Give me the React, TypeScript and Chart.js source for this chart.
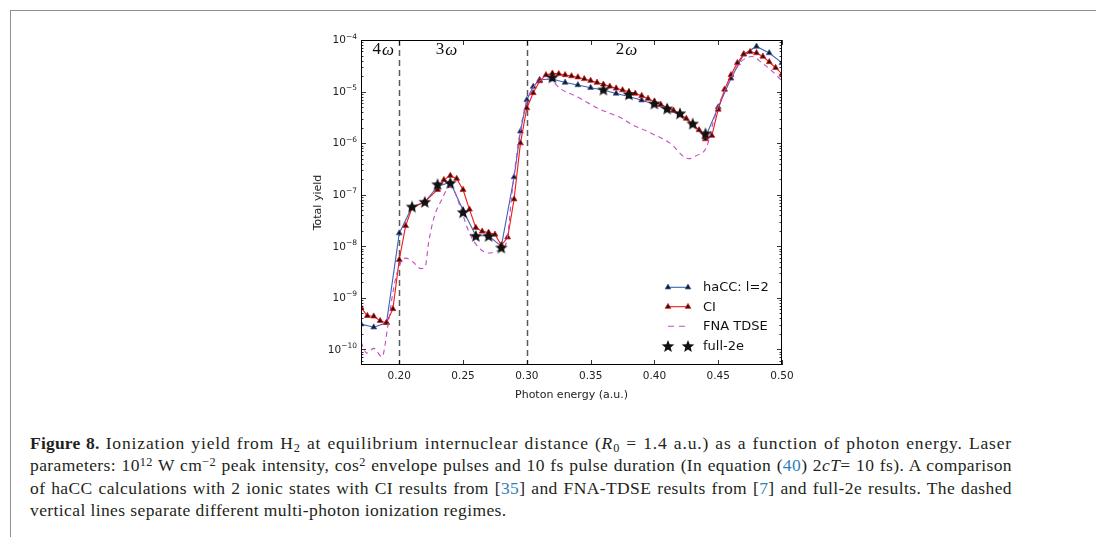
import React, { useEffect, useRef } from "react";
import { Chart, registerables } from "chart.js";

Chart.register(...registerables);

// ---------------- data ----------------
const HACC_ENERGY = [
  0.17, 0.18, 0.19, 0.2, 0.21, 0.22, 0.23, 0.24, 0.25, 0.26, 0.27, 0.28, 0.29, 0.295, 0.3, 0.305,
  0.31, 0.32, 0.33, 0.34, 0.35, 0.36, 0.37, 0.38, 0.39, 0.4, 0.41, 0.42, 0.43, 0.44, 0.45, 0.46,
  0.47, 0.48, 0.49, 0.5,
];
const HACC_YIELD = [
  3.1e-10, 2.7e-10, 3.3e-10, 1.8e-8, 5.8e-8, 7.2e-8, 1.45e-7, 1.75e-7, 5.0e-8, 1.6e-8, 1.6e-8, 1.0e-8,
  2.2e-7, 1.7e-6, 6.9e-6, 1.25e-5, 1.7e-5, 1.75e-5, 1.5e-5, 1.34e-5, 1.19e-5, 1.07e-5, 9.2e-6, 8.0e-6,
  6.8e-6, 5.7e-6, 4.4e-6, 3.6e-6, 2.3e-6, 1.3e-6, 5.0e-6, 1.8e-5, 5.3e-5, 7.5e-5, 5.6e-5, 3.6e-5,
];

const CI_ENERGY = [
  0.17, 0.175, 0.18, 0.185, 0.19, 0.195, 0.2, 0.205, 0.21, 0.22, 0.23, 0.235, 0.24, 0.245, 0.25, 0.255,
  0.26, 0.265, 0.27, 0.275, 0.28, 0.285, 0.29, 0.295, 0.3, 0.305, 0.31, 0.315, 0.32, 0.325, 0.33, 0.335,
  0.34, 0.345, 0.35, 0.355, 0.36, 0.365, 0.37, 0.375, 0.38, 0.385, 0.39, 0.395, 0.4, 0.405, 0.41, 0.415,
  0.42, 0.425, 0.43, 0.435, 0.44, 0.445, 0.45, 0.455, 0.46, 0.465, 0.47, 0.475, 0.48, 0.485, 0.49, 0.495,
  0.5,
];
const CI_YIELD = [
  6.5e-10, 4.5e-10, 4.4e-10, 3.6e-10, 3.3e-10, 6.1e-10, 5.5e-9, 2.5e-8, 5.6e-8, 7.3e-8, 1.25e-7, 1.95e-7,
  2.35e-7, 2.05e-7, 1.25e-7, 5.2e-8, 2.3e-8, 1.95e-8, 1.85e-8, 1.7e-8, 1.05e-8, 1.5e-8, 8.2e-8, 1.0e-6,
  4.8e-6, 9.4e-6, 1.6e-5, 2.1e-5, 2.25e-5, 2.2e-5, 2.1e-5, 2.0e-5, 1.9e-5, 1.76e-5, 1.63e-5, 1.5e-5,
  1.38e-5, 1.26e-5, 1.16e-5, 1.07e-5, 9.9e-6, 9.2e-6, 8.3e-6, 7.3e-6, 6.4e-6, 5.6e-6, 4.9e-6, 4.3e-6,
  3.7e-6, 3.0e-6, 2.4e-6, 1.8e-6, 1.2e-6, 1.4e-6, 4.5e-6, 1.1e-5, 2.1e-5, 3.6e-5, 5.3e-5, 5.9e-5,
  5.6e-5, 4.8e-5, 3.75e-5, 2.9e-5, 2.2e-5,
];

const FNA_ENERGY = [
  0.17, 0.1745, 0.18, 0.1865, 0.191, 0.1955, 0.2, 0.205, 0.211, 0.217, 0.2205, 0.2228, 0.2275, 0.2333,
  0.2393, 0.243, 0.2485, 0.255, 0.2625, 0.27, 0.2785, 0.284, 0.289, 0.294, 0.299, 0.305, 0.31, 0.315,
  0.32, 0.3258, 0.339, 0.356, 0.365, 0.376, 0.381, 0.3965, 0.4123, 0.4267, 0.4333, 0.441, 0.446,
  0.452, 0.46, 0.467, 0.4713, 0.4765, 0.4843, 0.4922, 0.5,
];
const FNA_YIELD = [
  1.4e-10, 8.5e-11, 1.05e-10, 7.2e-11, 2.8e-10, 1.5e-9, 4.2e-9, 5.9e-9, 4.9e-9, 3.7e-9, 4.2e-9, 1.1e-8,
  3.8e-8, 8.0e-8, 1.4e-7, 1.2e-7, 5.1e-8, 1.8e-8, 9.3e-9, 7.4e-9, 8.5e-9, 1.2e-8, 1.5e-7, 1.3e-6,
  5.5e-6, 1.2e-5, 1.6e-5, 1.75e-5, 1.6e-5, 1.16e-5, 8.0e-6, 4.7e-6, 3.8e-6, 2.9e-6, 2.4e-6, 1.6e-6,
  1.0e-6, 5.0e-7, 5.8e-7, 8.5e-7, 2.5e-6, 7.0e-6, 1.8e-5, 3.6e-5, 4.4e-5, 4.8e-5, 3.6e-5, 2.5e-5,
  1.6e-5,
];

const FULL2E_ENERGY = [0.21, 0.22, 0.23, 0.24, 0.25, 0.26, 0.27, 0.28, 0.32, 0.36, 0.38, 0.4, 0.41, 0.42, 0.43, 0.44];
const FULL2E_YIELD = [
  5.9e-8, 7.3e-8, 1.6e-7, 1.7e-7, 4.6e-8, 1.6e-8, 1.6e-8, 9.5e-9, 1.9e-5, 1.1e-5, 8.9e-6, 5.9e-6,
  4.7e-6, 3.8e-6, 2.4e-6, 1.55e-6,
];

const X_TICKS = [0.2, 0.25, 0.3, 0.35, 0.4, 0.45, 0.5];
const Y_DECADES = [-10, -9, -8, -7, -6, -5, -4];
const REGIME_BOUNDARIES = [0.2, 0.3];
const REGIME_ORDERS = ["4", "3", "2"];
const REGIME_LABEL_ENERGY = [0.1874, 0.2371, 0.3782];
const REGIME_LABEL_YIELD = 6.4e-5;
const LEGEND_LABELS = ["haCC: l=2", "CI", "FNA TDSE", "full-2e"];

// ---------------- styles ----------------
const BLUE = "#3d63b8";
const RED = "#f01818";
const MAGENTA = "#c24cc2";
const AXIS_FONT = "'DejaVu Sans', 'Liberation Sans', sans-serif";

const zip = (xs: number[], ys: number[]) => xs.map((x, i) => ({ x, y: ys[i] }));

function makeStar(outer: number, inner: number, color: string): HTMLCanvasElement {
  const size = Math.ceil(outer * 2 + 2);
  const c = document.createElement("canvas");
  c.width = size;
  c.height = size;
  const g = c.getContext("2d")!;
  g.fillStyle = color;
  g.beginPath();
  for (let i = 0; i < 10; i++) {
    const r = i % 2 === 0 ? outer : inner;
    const a = -Math.PI / 2 + (i * Math.PI) / 5;
    const px = size / 2 + r * Math.cos(a);
    const py = size / 2 + 0.6 + r * Math.sin(a);
    if (i === 0) g.moveTo(px, py);
    else g.lineTo(px, py);
  }
  g.closePath();
  g.fill();
  return c;
}

function drawTriangle(ctx: CanvasRenderingContext2D, x: number, y: number, r: number, edge: string) {
  ctx.save();
  ctx.beginPath();
  for (let i = 0; i < 3; i++) {
    const a = -Math.PI / 2 + (i * 2 * Math.PI) / 3;
    const px = x + r * Math.cos(a);
    const py = y + r * Math.sin(a);
    if (i === 0) ctx.moveTo(px, py);
    else ctx.lineTo(px, py);
  }
  ctx.closePath();
  ctx.fillStyle = "#1a1a1a";
  ctx.fill();
  ctx.strokeStyle = edge;
  ctx.lineWidth = 0.8;
  ctx.stroke();
  ctx.restore();
}

export default function App() {
  const ref = useRef<HTMLCanvasElement | null>(null);

  useEffect(() => {
    if (!ref.current) return;
    const star = makeStar(6.6, 2.8, "#111");

    const decor = {
      id: "decor",
      beforeDatasetsDraw(chart: any) {
        const { ctx, chartArea: a, scales } = chart;
        const x = scales.x;
        ctx.save();
        ctx.strokeStyle = "#5a5a5a";
        ctx.lineWidth = 1.5;
        ctx.setLineDash([6, 4]);
        REGIME_BOUNDARIES.forEach((b) => {
          const px = Math.round(x.getPixelForValue(b)) + 0.5;
          ctx.beginPath();
          ctx.moveTo(px, a.top);
          ctx.lineTo(px, a.bottom);
          ctx.stroke();
        });
        ctx.restore();
      },
      afterDraw(chart: any) {
        const { ctx, chartArea: a, scales } = chart;
        const x = scales.x;
        const y = scales.y;
        ctx.save();
        // frame
        ctx.strokeStyle = "#000";
        ctx.lineWidth = 1;
        ctx.setLineDash([]);
        ctx.strokeRect(a.left + 0.5, a.top + 0.5, a.right - a.left - 1, a.bottom - a.top - 1);

        // x ticks (inward, top + bottom)
        ctx.beginPath();
        X_TICKS.forEach((t) => {
          const px = Math.round(x.getPixelForValue(t)) + 0.5;
          ctx.moveTo(px, a.bottom);
          ctx.lineTo(px, a.bottom - 5);
          ctx.moveTo(px, a.top);
          ctx.lineTo(px, a.top + 5);
        });
        // y ticks major + minor
        Y_DECADES.forEach((e) => {
          const py = Math.round(y.getPixelForValue(Math.pow(10, e))) + 0.5;
          ctx.moveTo(a.left, py);
          ctx.lineTo(a.left + 5, py);
          ctx.moveTo(a.right, py);
          ctx.lineTo(a.right - 5, py);
        });
        [-11, ...Y_DECADES].forEach((e) => {
          for (let k = 2; k <= 9; k++) {
            const v = k * Math.pow(10, e);
            if (v < y.min || v > y.max) continue;
            const py = Math.round(y.getPixelForValue(v)) + 0.5;
            ctx.moveTo(a.left, py);
            ctx.lineTo(a.left + 2.5, py);
            ctx.moveTo(a.right, py);
            ctx.lineTo(a.right - 2.5, py);
          }
        });
        ctx.lineWidth = 0.8;
        ctx.stroke();

        // x tick labels
        ctx.fillStyle = "#222";
        ctx.font = `10.5px ${AXIS_FONT}`;
        ctx.textAlign = "center";
        ctx.textBaseline = "middle";
        X_TICKS.forEach((t) => {
          ctx.fillText(t.toFixed(2), x.getPixelForValue(t), a.bottom + 11.5);
        });

        // y tick labels 10^e
        Y_DECADES.forEach((e) => {
          const py = y.getPixelForValue(Math.pow(10, e));
          const exp = "\u2212" + Math.abs(e);
          ctx.font = `7.5px ${AXIS_FONT}`;
          const ew = ctx.measureText(exp).width;
          const rightEdge = a.left - 4;
          ctx.textAlign = "left";
          ctx.textBaseline = "alphabetic";
          ctx.fillText(exp, rightEdge - ew, py - 1.5);
          ctx.font = `10.5px ${AXIS_FONT}`;
          ctx.textAlign = "right";
          ctx.textBaseline = "middle";
          ctx.fillText("10", rightEdge - ew, py + 0.5);
        });

        // axis titles
        ctx.font = `11px ${AXIS_FONT}`;
        ctx.textAlign = "center";
        ctx.textBaseline = "middle";
        ctx.fillText("Photon energy (a.u.)", (a.left + a.right) / 2, a.bottom + 30);
        ctx.save();
        ctx.translate(a.left - 43, (a.top + a.bottom) / 2);
        ctx.rotate(-Math.PI / 2);
        ctx.fillText("Total yield", 0, 0);
        ctx.restore();

        // regime labels
        ctx.fillStyle = "#111";
        REGIME_ORDERS.forEach((n, i) => {
          const cx = x.getPixelForValue(REGIME_LABEL_ENERGY[i]);
          const cy = y.getPixelForValue(REGIME_LABEL_YIELD);
          ctx.font = "17px 'Liberation Serif', 'DejaVu Serif', serif";
          const w1 = ctx.measureText(n).width;
          ctx.font = "italic 17px 'Liberation Serif', 'DejaVu Serif', serif";
          const w2 = ctx.measureText("\u03c9").width;
          const start = cx - (w1 + w2 + 1) / 2;
          ctx.textAlign = "left";
          ctx.textBaseline = "middle";
          ctx.font = "17px 'Liberation Serif', 'DejaVu Serif', serif";
          ctx.fillText(n, start, cy);
          ctx.font = "italic 17px 'Liberation Serif', 'DejaVu Serif', serif";
          ctx.fillText("\u03c9", start + w1 + 1, cy + 1);
        });

        // legend
        const hx0 = a.right - 114;
        const hx1 = a.right - 94;
        const tx = a.right - 79;
        const rows = [a.bottom - 77.7, a.bottom - 58.3, a.bottom - 38.7, a.bottom - 19];
        ctx.lineWidth = 1.1;
        ctx.strokeStyle = BLUE;
        ctx.beginPath();
        ctx.moveTo(hx0, rows[0]);
        ctx.lineTo(hx1, rows[0]);
        ctx.stroke();
        drawTriangle(ctx, hx0, rows[0], 3.3, BLUE);
        drawTriangle(ctx, hx1, rows[0], 3.3, BLUE);
        ctx.strokeStyle = RED;
        ctx.beginPath();
        ctx.moveTo(hx0, rows[1]);
        ctx.lineTo(hx1, rows[1]);
        ctx.stroke();
        drawTriangle(ctx, hx0, rows[1], 3.3, RED);
        drawTriangle(ctx, hx1, rows[1], 3.3, RED);
        ctx.strokeStyle = MAGENTA;
        ctx.setLineDash([6, 5]);
        ctx.beginPath();
        ctx.moveTo(hx0, rows[2]);
        ctx.lineTo(hx1, rows[2]);
        ctx.stroke();
        ctx.setLineDash([]);
        ctx.drawImage(star, hx0 - star.width / 2, rows[3] - star.height / 2);
        ctx.drawImage(star, hx1 - star.width / 2, rows[3] - star.height / 2);

        ctx.fillStyle = "#111";
        ctx.font = `13px ${AXIS_FONT}`;
        ctx.textAlign = "left";
        ctx.textBaseline = "middle";
        LEGEND_LABELS.forEach((l, i) => ctx.fillText(l, tx, rows[i] + 0.5));
        ctx.restore();
      },
    };

    const chart = new Chart(ref.current, {
      type: "line",
      data: {
        datasets: [
          {
            label: "full-2e",
            data: zip(FULL2E_ENERGY, FULL2E_YIELD),
            showLine: false,
            pointStyle: star as any,
            pointRadius: 7,
            order: 0,
          },
          {
            label: "FNA TDSE",
            data: zip(FNA_ENERGY, FNA_YIELD),
            borderColor: MAGENTA,
            borderWidth: 1.1,
            borderDash: [5, 4],
            pointRadius: 0,
            cubicInterpolationMode: "monotone",
            fill: false,
            order: 1,
          },
          {
            label: "CI",
            data: zip(CI_ENERGY, CI_YIELD),
            borderColor: RED,
            borderWidth: 1.1,
            pointStyle: "triangle",
            pointRadius: 3.4,
            pointBackgroundColor: "#1a1a1a",
            pointBorderColor: RED,
            pointBorderWidth: 0.8,
            fill: false,
            order: 2,
          },
          {
            label: "haCC: l=2",
            data: zip(HACC_ENERGY, HACC_YIELD),
            borderColor: BLUE,
            borderWidth: 1.1,
            pointStyle: "triangle",
            pointRadius: 3.4,
            pointBackgroundColor: "#1a1a1a",
            pointBorderColor: BLUE,
            pointBorderWidth: 0.8,
            fill: false,
            order: 3,
          },
        ],
      },
      options: {
        animation: false,
        responsive: false,
        events: [],
        layout: { padding: { top: 15, right: 18, left: 0, bottom: 0 } },
        plugins: { legend: { display: false }, tooltip: { enabled: false }, title: { display: false } },
        elements: { line: { tension: 0 } },
        scales: {
          x: {
            type: "linear",
            min: 0.17,
            max: 0.5,
            afterFit: (s: any) => {
              s.height = 45;
            },
            ticks: { display: false },
            grid: { display: false },
            border: { display: false },
          },
          y: {
            type: "logarithmic",
            min: 5e-11,
            max: 1e-4,
            afterFit: (s: any) => {
              s.width = 71;
            },
            ticks: { display: false },
            grid: { display: false },
            border: { display: false },
          },
        },
      },
      plugins: [decor],
    } as any);

    return () => chart.destroy();
  }, []);

  const blue = { color: "#2e7fb8" };
  const sup = { fontSize: "0.7em", verticalAlign: "0.45em", lineHeight: 0 } as React.CSSProperties;
  const sub = { fontSize: "0.7em", verticalAlign: "-0.25em", lineHeight: 0 } as React.CSSProperties;
  const just = { textAlign: "justify", textAlignLast: "justify", height: 22.3 } as React.CSSProperties;

  return (
    <div
      style={{
        position: "fixed",
        left: 0,
        top: 0,
        width: 1096,
        height: 537,
        background: "#fff",
        overflow: "hidden",
      }}
    >
      <div style={{ position: "absolute", left: 10, top: 10, width: 1086, height: 1, background: "#8f8f8f" }} />
      <div style={{ position: "absolute", left: 10, top: 10, width: 1, height: 527, background: "#8f8f8f" }} />
      <canvas ref={ref} width={510} height={385} style={{ position: "absolute", left: 290, top: 25 }} />
      <div
        style={{
          position: "absolute",
          left: 30,
          top: 432,
          width: 982,
          fontFamily: "'Liberation Serif', 'Times New Roman', serif",
          fontSize: 17.5,
          letterSpacing: "0.4px",
          lineHeight: "22.3px",
          color: "#231f20",
        }}
      >
        <div style={{ ...just, letterSpacing: "0.85px" }}>
          <b style={{ letterSpacing: "0.2px" }}>Figure 8.</b> Ionization yield from H<span style={sub}>2</span> at
          equilibrium internuclear distance (<i>R</i>
          <span style={sub}>0</span> = 1.4 a.u.) as a function of photon energy. Laser
        </div>
        <div style={just}>
          parameters: 10<span style={sup}>12</span> W cm<span style={sup}>−2</span> peak intensity, cos
          <span style={sup}>2</span> envelope pulses and 10 fs pulse duration (In equation (<span style={blue}>40</span>) 2
          <i>cT</i>= 10 fs). A comparison
        </div>
        <div style={just}>
          of haCC calculations with 2 ionic states with CI results from [<span style={blue}>35</span>] and FNA-TDSE
          results from [<span style={blue}>7</span>] and full-2e results. The dashed
        </div>
        <div style={{ height: 22.3 }}>vertical lines separate different multi-photon ionization regimes.</div>
      </div>
    </div>
  );
}
